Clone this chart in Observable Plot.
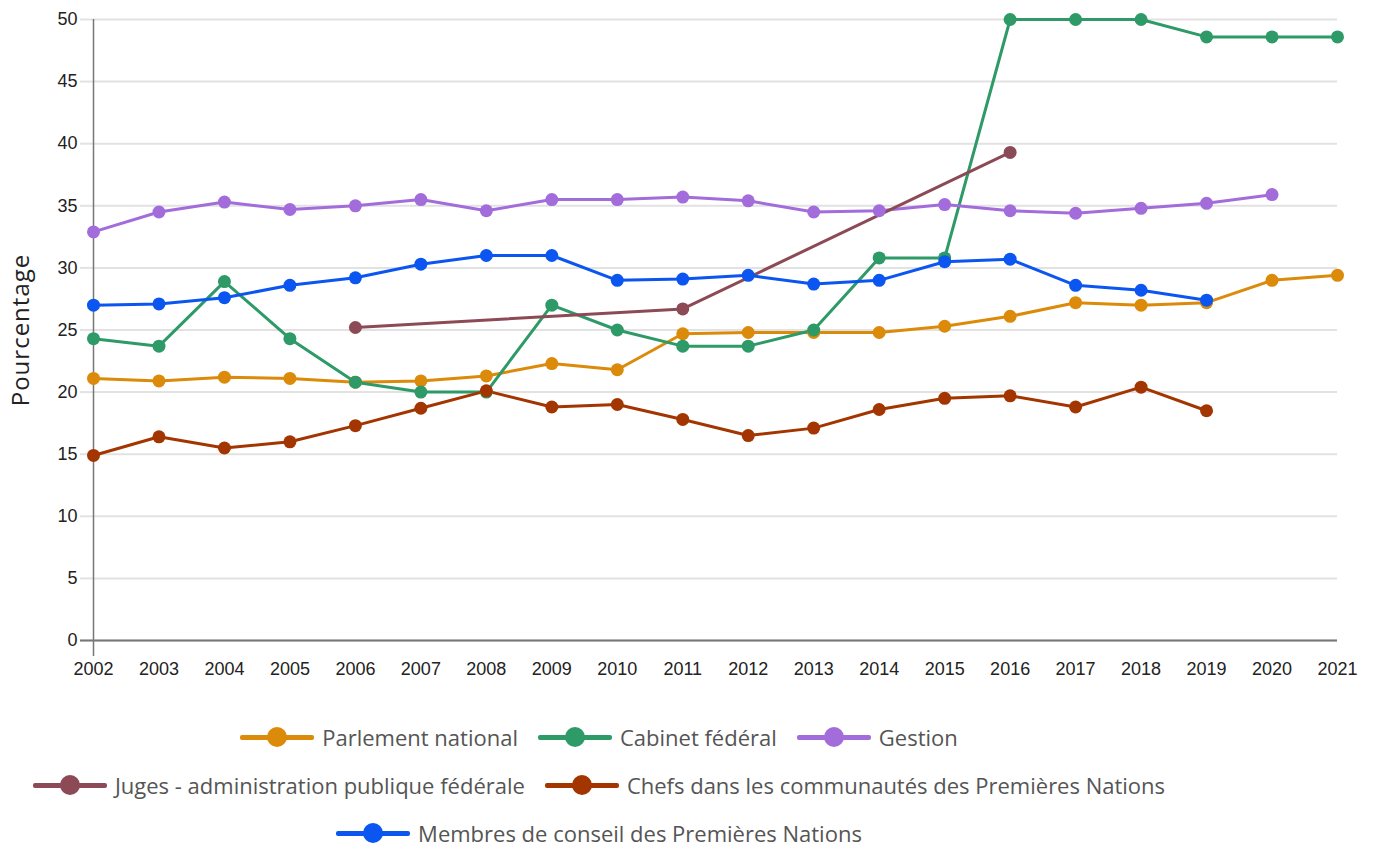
<!DOCTYPE html>
<html>
<head>
<meta charset="utf-8">
<script src="https://cdn.jsdelivr.net/npm/d3@7"></script>
<script src="https://cdn.jsdelivr.net/npm/@observablehq/plot@0.6"></script>
<style>
  body { margin: 0; background: #fff; }
  #wrap { width: 1374px; position: relative; }
  #legend { width: 1198px; font-family: "Open Sans", sans-serif; font-size: 22px; color: #555; margin-top: 13px; }
  .row { display: flex; justify-content: center; align-items: center; height: 48px; }
  .item { display: flex; align-items: center; margin: 0 10px; }
  .sw { position: relative; width: 74px; height: 20px; margin-right: 8px; }
  .sw .ln { position: absolute; left: 0; right: 0; top: 8px; height: 5px; border-radius: 2px; }
  .sw .dt { position: absolute; left: 27px; top: 0px; width: 20px; height: 20px; border-radius: 50%; }
</style>
</head>
<body>
<div id="wrap">
  <div id="chart"></div>
  <div id="legend"></div>
</div>
<script>
const years = [2002,2003,2004,2005,2006,2007,2008,2009,2010,2011,2012,2013,2014,2015,2016,2017,2018,2019,2020,2021];
const seriesNames = [
  "Parlement national",
  "Cabinet fédéral",
  "Gestion",
  "Juges - administration publique fédérale",
  "Chefs dans les communautés des Premières Nations",
  "Membres de conseil des Premières Nations"
];
const seriesColors = ["#DC8A0A", "#2E9A67", "#A36CDB", "#8C4A56", "#A33600", "#0B55F0"];
const parlement = [21.1,20.9,21.2,21.1,20.8,20.9,21.3,22.3,21.8,24.7,24.8,24.8,24.8,25.3,26.1,27.2,27.0,27.2,29.0,29.4];
const cabinet   = [24.3,23.7,28.9,24.3,20.8,20.0,20.0,27.0,25.0,23.7,23.7,25.0,30.8,30.8,50.0,50.0,50.0,48.6,48.6,48.6];
const gestion   = [32.9,34.5,35.3,34.7,35.0,35.5,34.6,35.5,35.5,35.7,35.4,34.5,34.6,35.1,34.6,34.4,34.8,35.2,35.9,null];
const juges     = [null,null,null,null,25.2,null,null,null,null,26.7,null,null,null,null,39.3,null,null,null,null,null];
const chefs     = [14.9,16.4,15.5,16.0,17.3,18.7,20.1,18.8,19.0,17.8,16.5,17.1,18.6,19.5,19.7,18.8,20.4,18.5,null,null];
const membres   = [27.0,27.1,27.6,28.6,29.2,30.3,31.0,31.0,29.0,29.1,29.4,28.7,29.0,30.5,30.7,28.6,28.2,27.4,null,null];
const yTicks = [0,5,10,15,20,25,30,35,40,45,50];
const yLabel = "Pourcentage";
const legendRows = [[0,1,2],[3,4],[5]];

const allSeries = [parlement, cabinet, gestion, juges, chefs, membres];
const data = [];
allSeries.forEach((vals, si) => {
  vals.forEach((v, i) => { if (v != null) data.push({year: years[i], value: v, series: seriesNames[si]}); });
});

const chart = Plot.plot({
  width: 1374,
  height: 700,
  marginLeft: 93,
  marginRight: 37,
  marginTop: 19,
  marginBottom: 60,
  style: {fontFamily: "'Liberation Sans', Arial, sans-serif", fontSize: "18px", background: "#fff"},
  x: {domain: [2002, 2021], label: null},
  y: {domain: [0, 50], label: null},
  color: {domain: seriesNames, range: seriesColors},
  marks: [
    Plot.ruleY(yTicks, {stroke: "#e2e2e2", strokeWidth: 2}),
    Plot.axisY({ticks: yTicks, tickSize: 13, tickPadding: 3, stroke: "#e2e2e2", strokeWidth: 2, fill: "#222", fontSize: 18, label: null}),
    Plot.axisX({ticks: years, tickFormat: "d", tickSize: 0, tickPadding: 22, fill: "#222", fontSize: 18, label: null}),
    Plot.ruleY([0], {stroke: "#777", strokeWidth: 2, insetLeft: -13}),
    Plot.ruleX([2002], {stroke: "#777", strokeWidth: 1.5, insetBottom: -16}),
    Plot.line(data, {x: "year", y: "value", z: "series", stroke: "series", strokeWidth: 3}),
    Plot.dot(data, {x: "year", y: "value", fill: "series", r: 6.5})
  ]
});
document.getElementById("chart").appendChild(chart);

// y axis title
const svg = d3.select(chart);
svg.append("text")
  .attr("transform", "translate(29,330) rotate(-90)")
  .attr("text-anchor", "middle")
  .style("font-family", "'Open Sans', sans-serif")
  .style("font-size", "24px")
  .style("letter-spacing", "1px")
  .attr("fill", "#222")
  .text(yLabel);

const legend = document.getElementById("legend");
legendRows.forEach(row => {
  const r = document.createElement("div");
  r.className = "row";
  row.forEach(i => {
    const it = document.createElement("div");
    it.className = "item";
    it.innerHTML = `<div class="sw"><div class="ln" style="background:${seriesColors[i]}"></div><div class="dt" style="background:${seriesColors[i]}"></div></div><span>${seriesNames[i]}</span>`;
    r.appendChild(it);
  });
  legend.appendChild(r);
});
</script>
</body>
</html>
